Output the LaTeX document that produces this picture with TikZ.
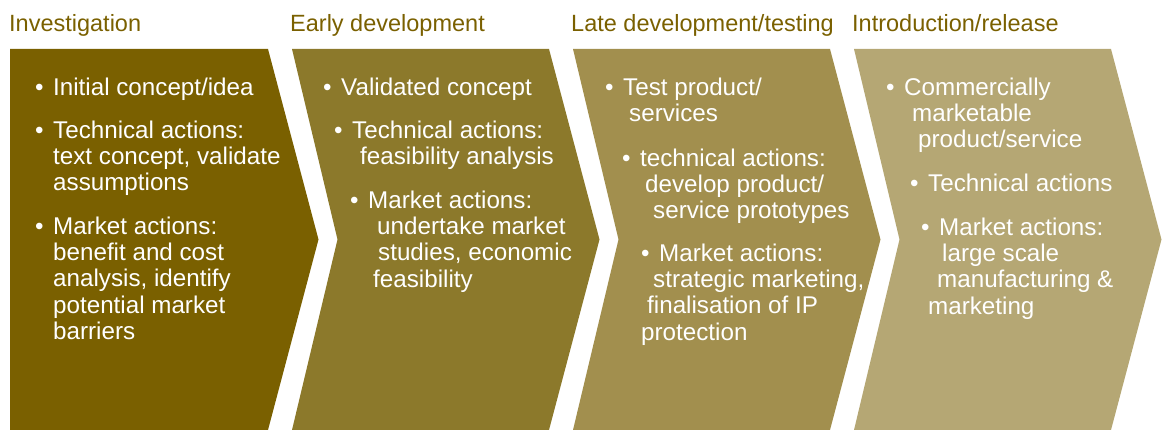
\documentclass[tikz,border=0pt]{standalone}
\usepackage{fontspec}
\setmainfont{Liberation Sans}
\usepackage{xcolor}
\usepackage{tikz}
\definecolor{stageone}{RGB}{122,96,0}
\definecolor{stagetwo}{RGB}{140,121,43}
\definecolor{stagethree}{RGB}{162,143,78}
\definecolor{stagefour}{RGB}{181,167,116}
\tikzset{
  stagetitle/.style={anchor=base west,inner sep=0pt,text=stageone,
    font=\fontsize{23.5}{26}\selectfont},
  bulletnode/.style={anchor=north west,yshift=18.41pt,inner sep=0pt,
    text=white,align=left,font=\fontsize{24.2}{26.3}\selectfont}
}
\newcommand{\bul}{\strut\makebox[18pt][l]{\textbullet}}

\begin{document}
\begin{tikzpicture}[x=1pt,y=-1pt]
  \useasboundingbox (0,0) rectangle (1162,430);
  \newcommand{\stagechevron}[2]{%
    \fill[#2] (#1,49) -- ++(257,0) -- ++(50.5,190.5) -- ++(-50.5,190.5)
      -- ++(-257,0) -- ++(45.5,-190.5) -- cycle;}

  \fill[stageone] (10,49) -- (268,49) -- (318.5,239.5) -- (268,430)
    -- (10,430) -- cycle;
  \stagechevron{292}{stagetwo}
  \stagechevron{573}{stagethree}
  \stagechevron{854}{stagefour}

  \node[stagetitle] (inv) at (9,32) {Investigation};
  \node[stagetitle] (early) at (290,32) {Early development};
  \node[stagetitle] (late) at (571,32) {Late development/testing};
  \node[stagetitle] (intro) at (852,32) {Introduction/release};

  \node[bulletnode] (inv1) at (35,95) {\bul Initial concept/idea};
  \node[bulletnode] (inv2) at (35,138) {\bul Technical actions:\\
    \hspace*{18pt}text concept, validate\\\hspace*{18pt}assumptions};
  \node[bulletnode] (inv3) at (35,234) {\bul Market actions:\\
    \hspace*{18pt}benefit and cost\\\hspace*{18pt}analysis, identify\\
    \hspace*{18pt}potential market\\\hspace*{18pt}barriers};

  \node[bulletnode] (early1) at (323,95) {\bul Validated concept};
  \node[bulletnode] (early2) at (334,138) {\bul Technical actions:\\
    \hspace*{26pt}feasibility analysis};
  \node[bulletnode] (early3) at (350,208) {\bul Market actions:\\
    \hspace*{27pt}undertake market\\\hspace*{28pt}studies, economic\\
    \hspace*{23pt}feasibility};

  \node[bulletnode] (late1) at (605,95) {\bul Test product/\\
    \hspace*{24pt}services};
  \node[bulletnode] (late2) at (622,166) {\bul technical actions:\\
    \hspace*{23pt}develop product/\\\hspace*{31pt}service prototypes};
  \node[bulletnode] (late3) at (641,261) {\bul Market actions:\\
    \hspace*{12pt}strategic marketing,\\\hspace*{6pt}finalisation of IP\\
    protection};

  \node[bulletnode] (intro1) at (886,95) {\bul Commercially\\
    \hspace*{26pt}marketable\\\hspace*{32pt}product/service};
  \node[bulletnode] (intro2) at (910,191) {\bul Technical actions};
  \node[bulletnode] (intro3) at (921,235) {\bul Market actions:\\
    \hspace*{21pt}large scale\\\hspace*{16pt}manufacturing \&\\
    \hspace*{7pt}marketing};
\end{tikzpicture}
\end{document}
